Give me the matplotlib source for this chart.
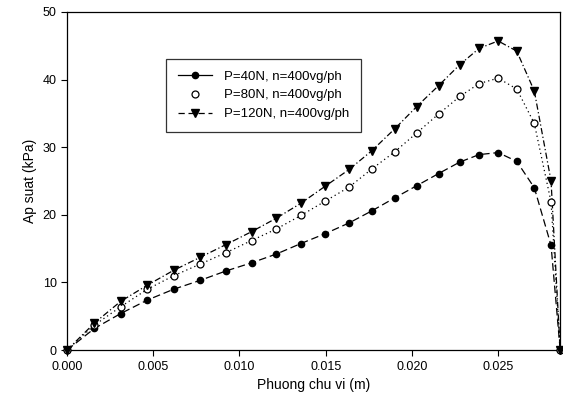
import matplotlib
matplotlib.use("Agg")
import matplotlib.pyplot as plt
from matplotlib.lines import Line2D

plt.rcParams['font.family'] = ['Liberation Sans', 'DejaVu Sans']

x = [0.0, 0.00159, 0.00311, 0.00466, 0.00619, 0.00771, 0.00922, 0.0107, 0.01214,
     0.01356, 0.01496, 0.01636, 0.01769, 0.0190, 0.02028, 0.02155, 0.02278, 0.0239,
     0.0250, 0.02608, 0.0271, 0.02807, 0.0286]

p40 = [0.0, 3.2, 5.4, 7.4, 9.0, 10.3, 11.7, 12.9, 14.2, 15.75, 17.2, 18.8, 20.6, 22.5,
       24.3, 26.1, 27.8, 28.9, 29.2, 27.9, 24.0, 15.5, 0.0]
p80 = [0.0, 3.7, 6.4, 9.0, 11.0, 12.7, 14.4, 16.2, 17.9, 19.9, 22.0, 24.1, 26.8, 29.3,
       32.1, 34.9, 37.5, 39.4, 40.2, 38.6, 33.5, 21.9, 0.0]
p120 = [0.0, 4.0, 7.2, 9.6, 11.8, 13.7, 15.6, 17.5, 19.5, 21.7, 24.2, 26.7, 29.5, 32.7,
        36.0, 39.1, 42.2, 44.6, 45.7, 44.2, 38.3, 25.0, 0.0]

labels = ["P=40N, n=400vg/ph", "P=80N, n=400vg/ph", "P=120N, n=400vg/ph"]
xticks = [0.000, 0.005, 0.010, 0.015, 0.020, 0.025]
yticks = [0, 10, 20, 30, 40, 50]

fig = plt.figure(figsize=(5.63, 4.09), dpi=100)
ax = fig.add_axes([0.119, 0.144, 0.876, 0.827])

ax.plot(x, p40, color='black', lw=0.9, ls=(0, (6, 3)), clip_on=False)
ax.plot(x, p80, color='black', lw=0.9, ls=(0, (1, 2.5)), clip_on=False)
ax.plot(x, p120, color='black', lw=0.9, ls=(0, (5, 2, 1, 2)), clip_on=False)

ax.plot(x, p40, ls='none', marker='o', ms=4.5, mfc='black', mec='black', clip_on=False, zorder=4)
ax.plot(x, p80, ls='none', marker='o', ms=5, mfc='white', mec='black', mew=0.9, clip_on=False, zorder=4)
ax.plot(x, p120, ls='none', marker='v', ms=5.8, mfc='black', mec='black', clip_on=False, zorder=4)

ax.set_xlim(0, 0.0286)
ax.set_ylim(0, 50)
ax.set_xticks(xticks)
ax.set_xticklabels([f"{t:.3f}" for t in xticks])
ax.set_yticks(yticks)
ax.tick_params(direction='out', length=4, width=0.8, labelsize=9, colors='black')
for s in ax.spines.values():
    s.set_linewidth(0.9)

ax.set_xlabel("Phuong chu vi (m)", fontsize=10)
ax.set_ylabel("Ap suat (kPa)", fontsize=10)

handles = [
    Line2D([], [], color='black', lw=0.9, ls='-', marker='o', ms=4.5, mfc='black'),
    Line2D([], [], color='black', lw=0, ls='none', marker='o', ms=5, mfc='white', mew=0.9),
    Line2D([], [], color='black', lw=0.9, ls=(0, (5, 3)), marker='v', ms=5.8, mfc='black'),
]
leg = ax.legend(handles, labels, loc='upper left', bbox_to_anchor=(0.2, 0.862),
                fontsize=9.5, frameon=True, fancybox=False, edgecolor='black',
                borderpad=0.9, handlelength=2.6, labelspacing=0.5, borderaxespad=0,
                handletextpad=0.9)
leg.get_frame().set_linewidth(0.9)

fig.savefig("out.png", dpi=100)
